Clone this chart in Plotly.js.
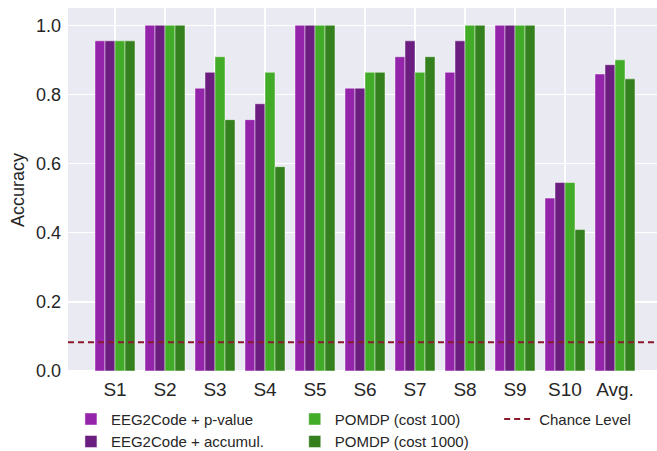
<!DOCTYPE html>
<html>
<head>
<meta charset="utf-8">
<script src="https://cdn.plot.ly/plotly-3.0.1.min.js"></script>
<style>html,body{margin:0;padding:0;background:#fff;}#chart{width:657px;height:451px;}</style>
</head>
<body>
<div id="chart"></div>
<script>
const subjects = ["S1","S2","S3","S4","S5","S6","S7","S8","S9","S10","Avg."];
const pValue    = [0.955, 1.0, 0.818, 0.727, 1.0, 0.818, 0.909, 0.864, 1.0, 0.500, 0.859];
const accumul   = [0.955, 1.0, 0.864, 0.773, 1.0, 0.818, 0.955, 0.955, 1.0, 0.545, 0.886];
const cost100   = [0.955, 1.0, 0.909, 0.864, 1.0, 0.864, 0.864, 1.0, 1.0, 0.545, 0.900];
const cost1000  = [0.955, 1.0, 0.727, 0.591, 1.0, 0.864, 0.909, 1.0, 1.0, 0.409, 0.845];
const chanceLevel = 0.0833;
const seriesNames = ["EEG2Code + p-value","EEG2Code + accumul.","POMDP (cost 100)","POMDP (cost 1000)"];
const seriesColors = ["#9424aa","#6b1d80","#42ab27","#34801e"];
const yTicks = [0, 0.2, 0.4, 0.6, 0.8, 1.0];

const series = [pValue, accumul, cost100, cost1000];
const legendFor = ["legend","legend","legend2","legend2"];
const traces = series.map((vals, i) => ({
  type: "bar",
  x: subjects,
  y: vals,
  name: seriesNames[i],
  legend: legendFor[i],
  marker: {color: seriesColors[i], line: {color: "rgba(255,255,255,0.45)", width: 1}},
  hoverinfo: "x+y+name"
}));

const font = {family: "Liberation Sans, Arial, sans-serif", color: "#262626"};
const legendBase = {
  orientation: "v", yanchor: "top", xanchor: "left",
  yref: "container", y: 0.107,
  bgcolor: "rgba(0,0,0,0)", font: {family: font.family, size: 15, color: "#262626"},
  tracegroupgap: 0, itemwidth: 30
};

const layout = {
  width: 657, height: 451,
  margin: {l: 68, r: 0, t: 8, b: 79, pad: 0},
  paper_bgcolor: "#ffffff",
  plot_bgcolor: "#eaeaf2",
  font: font,
  barmode: "group",
  bargap: 0.2,
  bargroupgap: 0,
  xaxis: {
    type: "category",
    range: [-0.94, 10.84],
    showgrid: true, gridcolor: "#ffffff", gridwidth: 1.5,
    zeroline: false, showline: false, ticks: "",
    tickfont: {size: 19, color: "#262626"},
    ticklabelstandoff: 4,
    automargin: false
  },
  yaxis: {
    range: [-0.003, 1.05],
    tickvals: yTicks,
    tickformat: ".1f",
    showgrid: true, gridcolor: "#ffffff", gridwidth: 1.5,
    zeroline: false, showline: false, ticks: "",
    tickfont: {size: 18, color: "#262626"},
    ticklabelstandoff: 6,
    automargin: false,
    title: {text: "Accuracy", font: {size: 18, color: "#262626"}, standoff: 6}
  },
  shapes: [{
    type: "line", xref: "paper", x0: 0, x1: 1, yref: "y", y0: chanceLevel, y1: chanceLevel,
    line: {color: "#8b1a2e", width: 2, dash: "6px,4px"},
    showlegend: true, name: "Chance Level", legend: "legend3"
  }],
  legend: Object.assign({}, legendBase, {x: 0.005}),
  legend2: Object.assign({}, legendBase, {x: 0.385}),
  legend3: Object.assign({}, legendBase, {x: 0.732}),
  showlegend: true
};

Plotly.newPlot("chart", traces, layout, {displayModeBar: false, staticPlot: true});
</script>
</body>
</html>
